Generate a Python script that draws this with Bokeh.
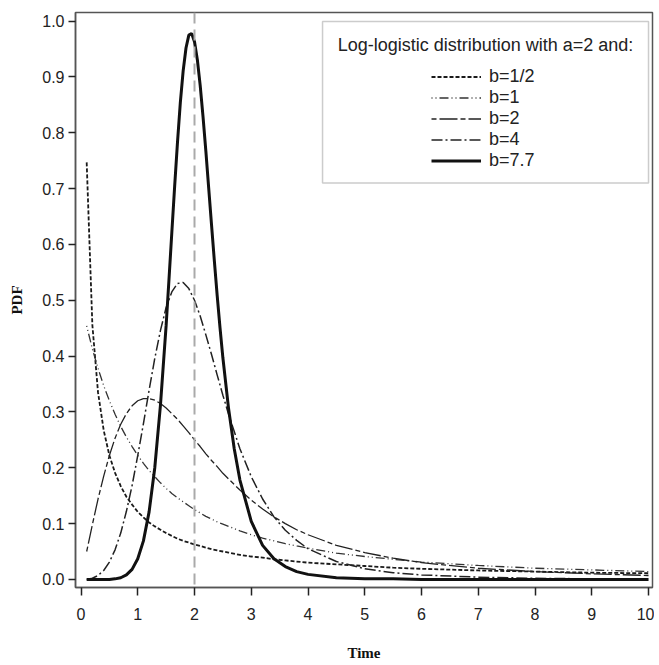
from bokeh.plotting import figure
from bokeh.models import Range1d, Span, Legend, LegendItem, Label, BoxAnnotation, FixedTicker, NumeralTickFormatter
from bokeh.embed import file_html
from bokeh.resources import INLINE

# ---- data ----
time = [0.1, 0.2, 0.3, 0.4, 0.5, 0.6, 0.7, 0.8, 0.9, 1.0, 1.1, 1.2, 1.3, 1.4, 1.5, 1.6, 1.7, 1.8, 1.9, 2.0,
        2.1, 2.2, 2.3, 2.4, 2.5, 2.6, 2.8, 3.0, 3.2, 3.4, 3.6, 3.8, 4.0, 4.5, 5.0, 5.5, 6.0, 7.0, 8.0, 9.0, 10.0]

pdf_b_half = [0.747, 0.456, 0.335, 0.267, 0.222, 0.191, 0.167, 0.148, 0.134, 0.121, 0.111, 0.102, 0.095, 0.089,
              0.083, 0.078, 0.073, 0.069, 0.066, 0.0625, 0.060, 0.057, 0.054, 0.052, 0.050, 0.048, 0.044, 0.041,
              0.039, 0.036, 0.034, 0.032, 0.030, 0.027, 0.024, 0.021, 0.019, 0.016, 0.014, 0.012, 0.011]
pdf_b1 = [0.454, 0.413, 0.378, 0.347, 0.320, 0.296, 0.274, 0.255, 0.238, 0.222, 0.208, 0.195, 0.184, 0.173,
          0.163, 0.154, 0.146, 0.139, 0.132, 0.125, 0.119, 0.113, 0.108, 0.103, 0.099, 0.095, 0.087, 0.080,
          0.074, 0.069, 0.064, 0.060, 0.056, 0.047, 0.041, 0.036, 0.031, 0.025, 0.020, 0.017, 0.014]
pdf_b2 = [0.050, 0.098, 0.144, 0.185, 0.222, 0.253, 0.278, 0.297, 0.311, 0.320, 0.324, 0.324, 0.321, 0.315,
          0.307, 0.297, 0.287, 0.275, 0.263, 0.250, 0.238, 0.225, 0.213, 0.202, 0.190, 0.180, 0.160, 0.142,
          0.126, 0.112, 0.100, 0.089, 0.080, 0.061, 0.048, 0.038, 0.030, 0.020, 0.014, 0.010, 0.007]
pdf_b4 = [0.000, 0.002, 0.007, 0.016, 0.031, 0.053, 0.083, 0.122, 0.168, 0.222, 0.279, 0.339, 0.396, 0.446,
          0.487, 0.515, 0.530, 0.532, 0.521, 0.500, 0.472, 0.438, 0.403, 0.366, 0.330, 0.296, 0.234, 0.184,
          0.144, 0.112, 0.088, 0.070, 0.055, 0.032, 0.019, 0.012, 0.008, 0.004, 0.002, 0.001, 0.001]

time_b77 = [0.1, 0.3, 0.5, 0.6, 0.7, 0.8, 0.9, 1.0, 1.1, 1.2, 1.3, 1.4, 1.5, 1.55, 1.6, 1.65, 1.7, 1.75, 1.8,
            1.85, 1.9, 1.95, 2.0, 2.05, 2.1, 2.15, 2.2, 2.25, 2.3, 2.35, 2.4, 2.45, 2.5, 2.6, 2.7, 2.8, 3.0,
            3.2, 3.4, 3.6, 3.8, 4.0, 4.5, 5.0, 5.5, 6.0, 7.0, 8.0, 10.0]
pdf_b77 = [0.000, 0.000, 0.000, 0.001, 0.003, 0.008, 0.018, 0.037, 0.069, 0.121, 0.200, 0.312, 0.455, 0.537,
           0.621, 0.704, 0.783, 0.854, 0.911, 0.952, 0.975, 0.978, 0.963, 0.931, 0.885, 0.829, 0.767, 0.701,
           0.635, 0.570, 0.508, 0.450, 0.397, 0.306, 0.234, 0.178, 0.104, 0.061, 0.037, 0.023, 0.014, 0.009,
           0.003, 0.001, 0.001, 0.000, 0.000, 0.000, 0.000]

series_labels = ["b=1/2", "b=1", "b=2", "b=4", "b=7.7"]
scale_a = 2
x_ticks = [0, 1, 2, 3, 4, 5, 6, 7, 8, 9, 10]
y_ticks = [0.0, 0.1, 0.2, 0.3, 0.4, 0.5, 0.6, 0.7, 0.8, 0.9, 1.0]
legend_title = "Log-logistic distribution with a=2 and:"

SANS = "Liberation Sans"
SERIF = "Liberation Serif"

p = figure(width=654, height=663, output_backend="svg", toolbar_location=None,
           x_range=Range1d(-0.097, 10.07), y_range=Range1d(-0.0145, 1.0155),
           min_border_left=75, min_border_right=2, min_border_top=12, min_border_bottom=74)
p.background_fill_color = "white"
p.border_fill_color = "white"
p.xgrid.visible = False
p.ygrid.visible = False
p.outline_line_color = "#555555"
p.outline_line_width = 1.5
p.outline_line_alpha = 1.0

p.xaxis.ticker = FixedTicker(ticks=x_ticks)
p.yaxis.ticker = FixedTicker(ticks=y_ticks)
p.yaxis.formatter = NumeralTickFormatter(format="0.0")
for ax in (p.xaxis, p.yaxis):
    ax.axis_line_color = "#555555"
    ax.axis_line_width = 1.5
    ax.major_tick_line_color = "#222222"
    ax.major_tick_line_width = 1.5
    ax.major_tick_in = 0
    ax.minor_tick_line_color = None
    ax.major_label_text_font = SANS
    ax.major_label_text_font_size = "16px"
    ax.major_label_text_color = "#222222"
    ax.axis_label_text_font = SERIF
    ax.axis_label_text_font_style = "bold"
    ax.axis_label_text_font_size = "15px"
    ax.axis_label_text_color = "#111111"
p.xaxis.major_tick_out = 8
p.yaxis.major_tick_out = 7
p.xaxis.major_label_standoff = 12
p.yaxis.major_label_standoff = 4
p.xaxis.axis_label = "Time"
p.yaxis.axis_label = "PDF"
p.xaxis.axis_label_standoff = 22
p.yaxis.axis_label_standoff = 14

# reference line at the scale a
p.add_layout(Span(location=scale_a, dimension="height", line_color="#aaaaaa",
                  line_width=2, line_dash="11 6"))

r1 = p.line(time, pdf_b_half, line_color="#1a1a1a", line_width=1.8, line_dash="4 2")
r2 = p.line(time, pdf_b1, line_color="#333333", line_width=1.3, line_dash="1 3 1 3 9 3")
r3 = p.line(time, pdf_b2, line_color="#222222", line_width=1.3, line_dash="5 3 18 3")
r4 = p.line(time, pdf_b4, line_color="#222222", line_width=1.5, line_dash="11 3 2 3")
r5 = p.line(time_b77, pdf_b77, line_color="#111111", line_width=3)

# legend box and title
p.add_layout(BoxAnnotation(left=4.256, right=10.0, top=0.9995, bottom=0.7103,
                           fill_color=None, line_color="#555555", line_width=1.5))
p.add_layout(Label(x=7.128, y=0.958, text=legend_title, text_align="center", text_baseline="middle",
                   text_font=SANS, text_font_size="18px", text_color="#222222"))

legend = Legend(items=[LegendItem(label=l, renderers=[r]) for l, r in
                       zip(series_labels, [r1, r2, r3, r4, r5])],
                location=(356, 416), padding=0, margin=0, spacing=0,
                glyph_width=50, glyph_height=17, label_height=17, label_standoff=8,
                label_text_font=SANS, label_text_font_size="18px", label_text_color="#222222",
                label_text_line_height=0.9,
                border_line_color=None, background_fill_alpha=0)
p.add_layout(legend)

open("out.html", "w").write(file_html(p, INLINE))
